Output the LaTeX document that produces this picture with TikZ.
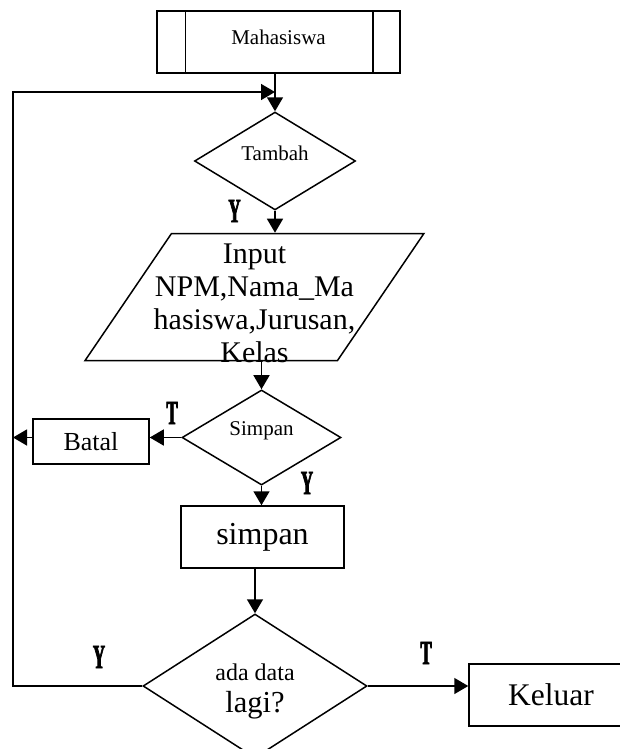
\documentclass[tikz,border=0pt]{standalone}
\usepackage{fontspec}
\setmainfont{Liberation Serif}
\newfontfamily\ytfont[FakeStretch=0.5,FakeBold=2]{Liberation Serif Bold}
\usetikzlibrary{shapes.geometric,arrows.meta}
\newcommand{\ukuran}[1]{\fontsize{#1}{#1}\selectfont}

\begin{document}
\begin{tikzpicture}[x=1pt,y=1pt,line width=1.5pt,
	>={Triangle[length=14pt,width=16pt]},
	kotak/.style={draw,rectangle,inner sep=0pt},
	keputusan/.style={draw,diamond,inner sep=0pt},
	masukan/.style={draw,trapezium,trapezium left angle=62.5,trapezium right angle=117.5,trapezium stretches=true,inner sep=2pt},
	ket/.style={inner sep=0pt,font=\ytfont\ukuran{34}}]
	%\draw[help lines] (0,0) grid (620,-749);
	\useasboundingbox (0,0) rectangle (620,-749);
	\node[kotak,minimum width=243pt,minimum height=62pt,text depth=10pt,font=\ukuran{21}] (mhs) at (278.5,-42) {Mahasiswa};
	\draw ([xshift=29pt]mhs.north west) -- ([xshift=29pt]mhs.south west);
	\draw ([xshift=-28pt]mhs.north east) -- ([xshift=-28pt]mhs.south east);
	\node[keputusan,minimum width=161pt,minimum height=89pt,text depth=16pt,font=\ukuran{21}] (tambah) at (275,-161) {Tambah};
	\node[masukan,minimum width=339pt,minimum height=127pt] (input) at (254.5,-297) {};
	\node[inner sep=0pt,anchor=north,align=center,font=\fontsize{30}{33}\selectfont] (inputtxt) at (254.5,-243) {Input\\NPM,Nama\_Ma\\hasiswa,Jurusan,\\Kelas};
	\node[keputusan,minimum width=159pt,minimum height=89pt,text depth=17pt,font=\ukuran{21}] (simpan) at (261.5,-437.5) {Simpan};
	\node[kotak,minimum width=116pt,minimum height=45pt,font=\ukuran{26}] (batal) at (91,-441.5) {Batal};
	\node[kotak,minimum width=163pt,minimum height=62pt,font=\ukuran{32}] (sbox) at (262.5,-537) {simpan};
	\node[keputusan,minimum width=224pt,minimum height=144pt] (lagi) at (255,-686) {};
	\node[inner sep=0pt,align=center,font=\fontsize{24}{32}\selectfont] (lagitxt) at ([yshift=-5pt]lagi.center) {ada data\\{\fontsize{30.5}{32}\selectfont lagi?}};
	\node[kotak,minimum width=164pt,minimum height=62pt,font=\ukuran{31.5}] (keluar) at (551,-695) {Keluar};
	\coordinate (kiri) at (13,-92);
	\coordinate (sambung) at (275,-92);
	\draw[->] (mhs.south -| tambah.north) -- (tambah.north);
	\draw[->] (tambah.south) -- (tambah.south |- input.north);
	\draw[->] (input.south -| simpan.north) -- (simpan.north);
	\draw[->] (simpan.west) -- (simpan.west -| batal.east);
	\draw[->] (batal.west |- simpan.west) -- (simpan.west -| kiri);
	\draw[->] (simpan.south) -- (simpan.south |- sbox.north);
	\draw[->] (sbox.south -| lagi.north) -- (lagi.north);
	\draw[->] (lagi.east) -- (lagi.east -| keluar.west);
	\draw[->] (lagi.west) -- (lagi.west -| kiri) -- (kiri) -- (sambung);
	\node[ket] (y1) at (234.5,-211) {Y};
	\node[ket] (t1) at (172,-413) {T};
	\node[ket] (y2) at (307,-483) {Y};
	\node[ket] (y3) at (99,-657) {Y};
	\node[ket] (t2) at (426,-653) {T};
\end{tikzpicture}
\end{document}
